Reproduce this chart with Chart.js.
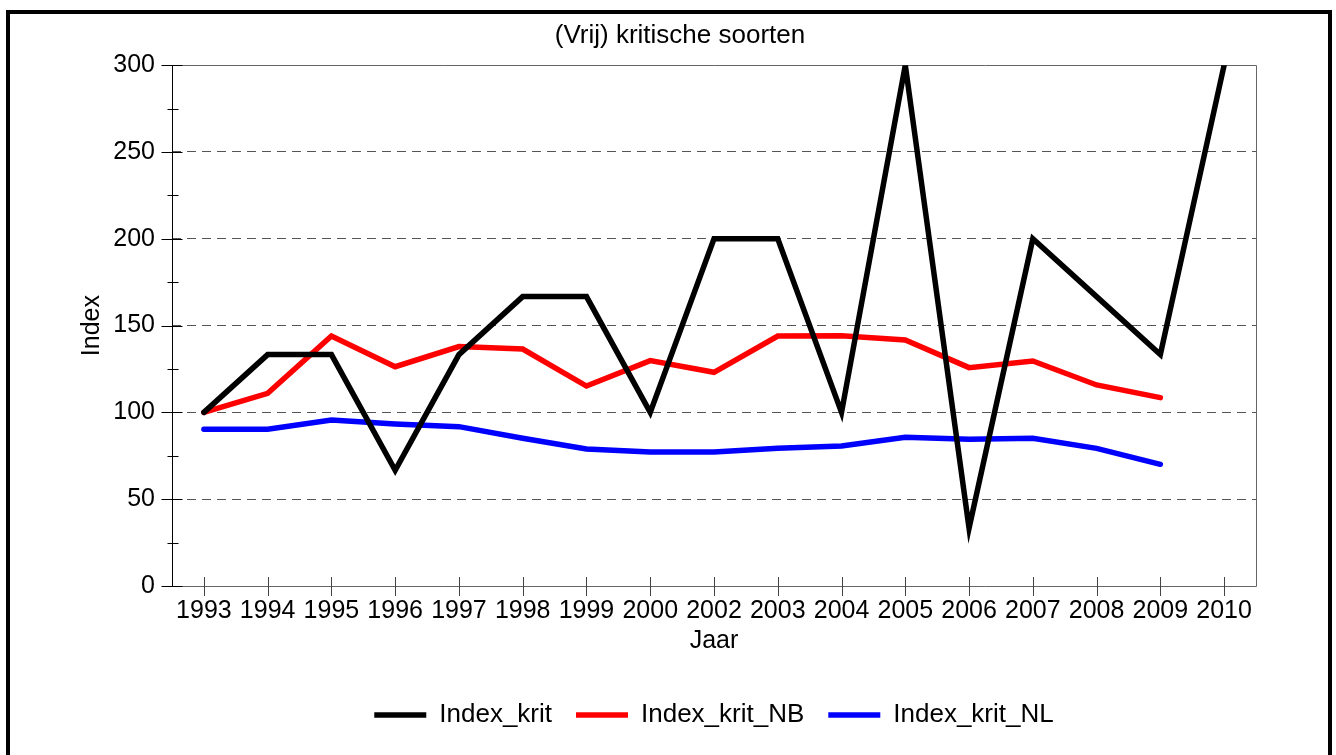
<!DOCTYPE html>
<html>
<head>
<meta charset="utf-8">
<title>(Vrij) kritische soorten</title>
<script src="https://cdn.jsdelivr.net/npm/chart.js@4.4.1/dist/chart.umd.min.js"></script>
<style>
  html, body { margin: 0; padding: 0; background: #fff; }
  canvas { display: block; }
</style>
</head>
<body>
<canvas id="chart" width="1336" height="755"></canvas>
<script>
  "use strict";

  // Data
  var jaren = ["1993", "1994", "1995", "1996", "1997", "1998", "1999", "2000", "2002",
               "2003", "2004", "2005", "2006", "2007", "2008", "2009", "2010"];
  var indexKrit = [100, 133.3, 133.3, 66.7, 133.3, 166.7, 166.7, 100, 200,
                   200, 100, 300, 33.3, 200, 166.7, 133.3, 300];
  var indexKritNB = [100, 111, 144, 126.3, 137.9, 136.5, 115.2, 129.8, 123.1,
                     144, 144.2, 141.7, 125.8, 129.6, 115.8, 108.5, null];
  var indexKritNL = [90.3, 90.3, 95.6, 93.3, 91.8, 85.1, 78.9, 77.2, 77.2,
                     79.3, 80.6, 85.7, 84.5, 85.1, 79.3, 70.1, null];
  var yTicks = [0, 50, 100, 150, 200, 250, 300];

  var FONT = "'Liberation Sans', Arial, sans-serif";

  // Plot frame, tick marks and outer border
  var frame = {
    id: "frame",
    beforeDatasetsDraw: function (chart) {
      var ctx = chart.ctx, a = chart.chartArea;
      var x = chart.scales.x, y = chart.scales.y;
      ctx.save();
      ctx.lineWidth = 1;
      ctx.strokeStyle = "#666";
      ctx.beginPath();
      ctx.moveTo(a.left, Math.round(a.top) + 0.5);
      ctx.lineTo(Math.round(a.right) + 0.5, Math.round(a.top) + 0.5);
      ctx.lineTo(Math.round(a.right) + 0.5, Math.round(a.bottom) + 0.5);
      ctx.lineTo(a.left, Math.round(a.bottom) + 0.5);
      ctx.stroke();

      // x ticks
      ctx.strokeStyle = "#444";
      ctx.beginPath();
      for (var i = 0; i < jaren.length; i++) {
        var px = Math.round(x.getPixelForValue(i)) + 0.5;
        ctx.moveTo(px, a.bottom - 9);
        ctx.lineTo(px, a.bottom + 10);
      }
      ctx.stroke();

      // y axis + ticks
      ctx.strokeStyle = "#000";
      var lx = Math.round(a.left) + 0.5;
      ctx.beginPath();
      ctx.moveTo(lx, a.top);
      ctx.lineTo(lx, a.bottom + 1);
      for (var v = 0; v <= 300; v += 25) {
        var py = Math.round(y.getPixelForValue(v)) + 0.5;
        if (v % 50 === 0) {
          ctx.moveTo(lx - 11, py);
          ctx.lineTo(lx + 10, py);
        } else {
          ctx.moveTo(lx - 5, py);
          ctx.lineTo(lx + 6, py);
        }
      }
      ctx.stroke();
      ctx.restore();
    },
    afterDraw: function (chart) {
      var ctx = chart.ctx;
      ctx.save();
      ctx.strokeStyle = "#000";
      ctx.lineWidth = 4;
      ctx.beginPath();
      ctx.moveTo(8, 770);
      ctx.lineTo(8, 12);
      ctx.lineTo(1330, 12);
      ctx.lineTo(1330, 770);
      ctx.stroke();
      ctx.restore();
    }
  };

  var lineStyle = { borderWidth: 5.5, borderCapStyle: "round", borderJoinStyle: "miter", pointRadius: 0 };

  var ctx = document.getElementById("chart").getContext("2d");
  var myChart = new Chart(ctx, {
    type: "line",
    data: {
      labels: jaren,
      datasets: [
        Object.assign({
          label: "Index_krit",
          data: indexKrit,
          borderColor: "#000000",
          backgroundColor: "#000000",
        }, lineStyle),
        Object.assign({
          label: "Index_krit_NB",
          data: indexKritNB,
          borderColor: "#ff0000",
          backgroundColor: "#ff0000",
        }, lineStyle),
        Object.assign({
          label: "Index_krit_NL",
          data: indexKritNL,
          borderColor: "#0000ff",
          backgroundColor: "#0000ff",
        }, lineStyle),
      ],
    },
    options: {
      responsive: false,
      animation: false,
      layout: {
        padding: { top: 10, left: 34, right: 10, bottom: 17 },
      },
      elements: {
        point: { radius: 0, hoverRadius: 0 },
        line: { tension: 0, fill: false },
      },
      plugins: {
        title: {
          display: true,
          text: "(Vrij) kritische soorten",
          color: "#000",
          font: { family: FONT, size: 26, weight: "normal" },
          padding: { top: 10, bottom: 14 },
        },
        legend: {
          position: "bottom",
          fullSize: false,
          labels: {
            usePointStyle: true,
            pointStyle: "line",
            pointStyleWidth: 52,
            boxWidth: 52,
            padding: 24,
            color: "#000",
            font: { family: FONT, size: 26 },
          },
        },
        tooltip: { enabled: false },
      },
      scales: {
        x: {
          offset: true,
          grid: { display: false },
          border: { display: false },
          ticks: {
            autoSkip: false,
            maxRotation: 0,
            padding: 2,
            color: "#000",
            font: { family: FONT, size: 25 },
          },
          title: {
            display: true,
            text: "Jaar",
            color: "#000",
            font: { family: FONT, size: 25 },
            padding: { top: 0, bottom: 22 },
          },
          afterFit: function (scale) {
            scale.height = 92;
          },
        },
        y: {
          min: 0,
          max: 300,
          afterBuildTicks: function (scale) {
            scale.ticks = yTicks.map(function (v) { return { value: v }; });
          },
          grid: {
            drawTicks: false,
            lineWidth: 1,
            color: function (c) {
              if (c.tick && (c.tick.value === 0 || c.tick.value === 300)) return "rgba(0,0,0,0)";
              return "#555";
            },
          },
          border: { display: false, dash: [9, 6] },
          ticks: {
            padding: 17,
            color: "#000",
            font: { family: FONT, size: 25 },
          },
          title: {
            display: true,
            text: "Index",
            color: "#000",
            font: { family: FONT, size: 25 },
            padding: { top: 43, bottom: 0 },
          },
          afterFit: function (scale) {
            scale.width = 138;
          },
        },
        // empty right-hand margin
        yr: {
          position: "right",
          min: 0,
          max: 300,
          grid: { display: false },
          border: { display: false },
          ticks: { display: false },
          afterFit: function (scale) {
            scale.width = 70;
          },
        },
      },
    },
    plugins: [frame],
  });
</script>
</body>
</html>
